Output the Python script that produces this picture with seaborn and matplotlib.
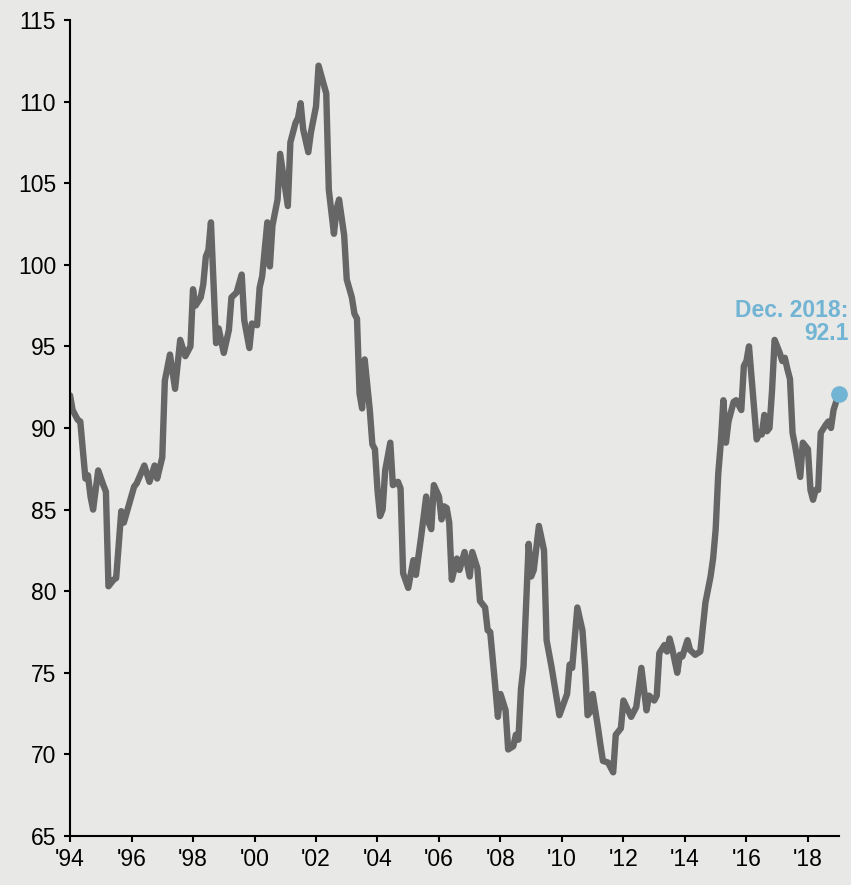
import os
import numpy as np
import pandas as pd
import matplotlib
matplotlib.use("Agg")
import matplotlib.pyplot as plt
from matplotlib import font_manager as fm
import seaborn as sns

# months counted from the start of 1994 (300 = end of Dec. 2018)
months = [
    0, 1, 3, 4, 6, 7, 8, 9, 11, 13, 14, 15, 17, 18, 20, 21, 25, 26, 29, 31,
    33, 34, 36, 37, 39, 41, 43, 45, 47, 48, 49, 51, 52, 53, 54, 55, 57, 58, 60, 62,
    63, 65, 67, 68, 70, 71, 73, 74, 75, 77, 78, 79, 81, 82, 85, 86, 88, 89, 90, 91,
    93, 94, 96, 97, 100, 101, 103, 104, 105, 107, 108, 110, 111, 112, 113, 114, 115, 117, 118, 119,
    120, 121, 122, 123, 125, 126, 128, 129, 130, 132, 134, 135, 137, 139, 140, 141, 142, 144, 145, 146,
    147, 148, 149, 151, 152, 154, 156, 157, 159, 160, 162, 163, 164, 166, 167, 168, 170, 171, 173, 174,
    175, 176, 177, 179, 180, 181, 183, 185, 186, 188, 191, 194, 195, 196, 198, 200, 201, 202, 203, 204,
    206, 207, 208, 210, 212, 213, 215, 216, 219, 221, 223, 225, 226, 228, 229, 230, 232, 233, 234, 235,
    237, 238, 239, 241, 242, 244, 246, 247, 248, 250, 251, 252, 253, 254, 255, 256, 257, 259, 260, 262,
    263, 264, 265, 266, 267, 268, 269, 270, 271, 272, 273, 274, 275, 277, 278, 279, 280, 281, 282, 283,
    285, 286, 287, 288, 289, 290, 291, 292, 293, 295, 296, 297, 298, 300,
]
index_values = [
    92.0, 91.1, 90.5, 90.4, 86.9, 87.1, 85.8, 85.0, 87.4, 86.5, 86.1, 80.3, 80.7, 80.8, 84.9, 84.2, 86.4, 86.6, 87.7, 86.7,
    87.7, 86.9, 88.2, 92.9, 94.5, 92.4, 95.4, 94.4, 95.0, 98.5, 97.5, 98.0, 98.8, 100.5, 100.9, 102.6, 95.2, 96.1, 94.6, 96.0,
    98.0, 98.3, 99.4, 96.6, 94.9, 96.4, 96.3, 98.6, 99.3, 102.6, 99.9, 102.4, 104.0, 106.8, 103.6, 107.5, 108.7, 109.0, 109.9, 108.3,
    106.9, 108.1, 109.7, 112.2, 110.5, 104.6, 101.9, 103.4, 104.0, 101.8, 99.1, 98.0, 97.0, 96.7, 92.1, 91.2, 94.2, 91.1, 89.0, 88.7,
    86.2, 84.6, 85.0, 87.4, 89.1, 86.5, 86.7, 86.3, 81.1, 80.2, 81.9, 81.0, 83.3, 85.8, 84.2, 83.8, 86.5, 85.8, 84.4, 85.2,
    85.1, 84.2, 80.7, 82.0, 81.3, 82.4, 80.9, 82.4, 81.4, 79.4, 79.0, 77.6, 77.5, 74.1, 72.3, 73.7, 72.7, 70.3, 70.5, 71.2,
    70.9, 74.0, 75.4, 82.9, 80.9, 81.3, 84.0, 82.5, 77.0, 75.3, 72.4, 73.7, 75.5, 75.3, 79.0, 77.6, 75.4, 72.4, 72.6, 73.7,
    71.7, 70.6, 69.6, 69.5, 68.9, 71.2, 71.6, 73.3, 72.3, 72.9, 75.3, 72.7, 73.6, 73.3, 73.6, 76.2, 76.7, 76.3, 77.1, 76.5,
    75.0, 76.1, 76.0, 77.0, 76.4, 76.1, 76.3, 77.8, 79.3, 80.9, 82.0, 83.8, 87.2, 89.1, 91.7, 89.1, 90.4, 91.6, 91.7, 91.1,
    93.8, 94.1, 95.0, 93.1, 91.2, 89.3, 89.7, 89.6, 90.8, 89.8, 90.0, 92.3, 95.4, 94.6, 94.1, 94.3, 93.6, 93.0, 89.7, 88.9,
    87.0, 89.1, 88.9, 88.7, 86.2, 85.6, 86.2, 86.2, 89.7, 90.2, 90.4, 90.0, 91.1, 92.1,
]
year_ticks = list(range(1994, 2019, 2))
year_labels = ["'" + str(y)[2:] for y in year_ticks]
last_label = "Dec. 2018:"

BG = "#e8e8e6"
LINE = "#666666"
BLUE = "#72b4d4"


def liberation(bold=False):
    # pick the normal-width Liberation Sans file (not the Narrow one)
    want = "LiberationSans-Bold" if bold else "LiberationSans-Regular"
    for f in fm.fontManager.ttflist:
        if os.path.basename(f.fname).startswith(want):
            return fm.FontProperties(fname=f.fname, size=16.5)
    return fm.FontProperties(family="DejaVu Sans", size=16.5,
                             weight="bold" if bold else "normal")


df = pd.DataFrame({"year": 1994 + np.array(months) / 12, "value": index_values})

sns.set_theme(style="ticks")
plt.rcParams["font.family"] = ["Liberation Sans", "DejaVu Sans"]
font_reg = liberation()
font_bold = liberation(bold=True)

fig = plt.figure(figsize=(8.51, 8.85), dpi=100, facecolor=BG)
ax = fig.add_axes([0.0823, 0.0554, 0.9032, 0.922])
ax.set_facecolor(BG)

sns.lineplot(data=df, x="year", y="value", color=LINE, linewidth=4.6, ax=ax)
ax.lines[0].set_solid_joinstyle("round")
last = df.iloc[-1]
ax.plot(last["year"], last["value"], "o", color=BLUE, markersize=11, zorder=5, clip_on=False)

ax.text(2019.33, 96.8, last_label, ha="right", va="baseline", color=BLUE,
        fontproperties=font_bold, clip_on=False)
ax.text(2019.33, 95.4, f"{last['value']:.1f}", ha="right", va="baseline", color=BLUE,
        fontproperties=font_bold, clip_on=False)

ax.set_xlim(1994, 2019)
ax.set_ylim(65, 115)
ax.set_yticks(range(65, 116, 5))
ax.set_xticks(year_ticks)
ax.set_xticklabels(year_labels)
ax.set_xlabel("")
ax.set_ylabel("")
ax.tick_params(axis="both", colors="black", width=1.5, length=4.5)
ax.tick_params(axis="y", pad=5.5)
ax.tick_params(axis="x", pad=4.5)
for lab in ax.get_xticklabels() + ax.get_yticklabels():
    lab.set_fontproperties(font_reg)
for side in ["top", "right"]:
    ax.spines[side].set_visible(False)
for side in ["left", "bottom"]:
    ax.spines[side].set_color("black")
    ax.spines[side].set_linewidth(1.5)

fig.savefig("out.png", dpi=100, facecolor=BG)
